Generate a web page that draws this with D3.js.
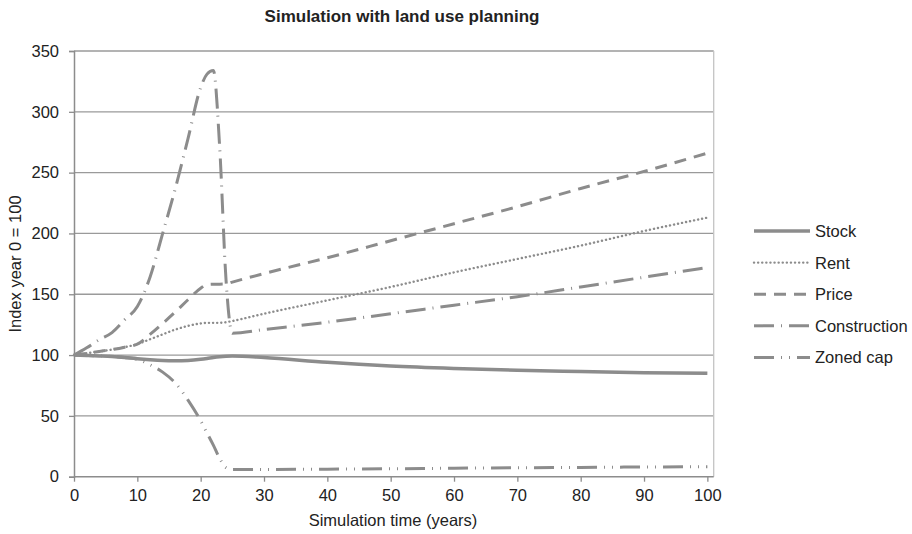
<!DOCTYPE html>
<html>
<head>
<meta charset="utf-8">
<script src="https://cdn.jsdelivr.net/npm/d3@7"></script>
<style>
  body { margin: 0; background: #fff; }
  svg { font-family: "Liberation Sans", Arial, sans-serif; }
</style>
</head>
<body>
<div id="chart"></div>
<script>
'use strict'

// simulation years and index values
const years        = [0, 2, 4, 6, 8, 10, 12, 14, 16, 18, 20, 21, 22, 23, 24, 25, 30, 40, 50, 60, 70, 80, 90, 100];
const stock        = [100, 99.7, 99.3, 98.8, 98, 97, 96.2, 95.6, 95.4, 95.6, 96.5, 97.2, 98, 98.6, 99, 99.2, 98, 94, 91, 89, 87.5, 86.5, 85.5, 85];
const rent         = [100, 101.5, 103, 104.5, 106.5, 109, 113, 117, 121, 124, 126, 126.5, 126.5, 126.5, 127, 128, 134, 145, 156, 168, 179, 190, 202, 213];
const price        = [100, 101.5, 103, 104.5, 106.5, 109, 117, 126, 135.5, 145.5, 155, 158, 158.3, 158.3, 158.5, 160, 167, 180, 194, 208, 222, 237, 251, 266];
const construction = [100, 106, 112.7, 118.5, 129, 140, 164, 200, 237, 278, 320, 331, 334, 271, 162, 118, 121, 127, 134, 141, 148, 156, 164, 172];
const zonedCap     = [100, 99.7, 99.3, 98.8, 98, 96.5, 92, 86, 77, 63, 46, 36, 26, 15, 7.5, 6, 6, 6.2, 6.5, 7, 7.3, 7.6, 8, 8.2];

const seriesNames = ['Stock', 'Rent', 'Price', 'Construction', 'Zoned cap'];
const yTicks = [0, 50, 100, 150, 200, 250, 300, 350];
const xTicks = [0, 10, 20, 30, 40, 50, 60, 70, 80, 90, 100];

const series = [stock, rent, price, construction, zonedCap];
const dashes = [null, '0.1 4', '12 8', '20 7 1 7', '20 7 1 7 1 7'];
const widths = [3.5, 2.4, 3, 3, 3];

const w = 912, h = 534;
const padLeft = 74, padTop = 51, padBottom = 476.7;
const lineColor = '#8c8c8c';
const fontSize = '16.5px';

const xScale = d3.scaleLinear().domain([0, 101]).range([padLeft, 713.7]);
const yScale = d3.scaleLinear().domain([0, 350]).range([padBottom, padTop]);

const svg = d3.select('#chart').append('svg')
  .attr('width', w).attr('height', h);

// title
svg.append('text').text('Simulation with land use planning')
  .attr('x', 402).attr('y', 22)
  .attr('text-anchor', 'middle')
  .style('font-size', '17px').style('font-weight', 'bold').attr('fill', '#222');

// gridlines
svg.append('g').selectAll('line')
  .data(yTicks.filter(d => d > 0))
  .enter().append('line')
  .attr('x1', padLeft).attr('x2', xScale(101))
  .attr('y1', d => yScale(d)).attr('y2', d => yScale(d))
  .attr('stroke', '#9a9a9a').attr('stroke-width', 1.3);

// right frame
svg.append('line')
  .attr('x1', xScale(101)).attr('x2', xScale(101))
  .attr('y1', padTop).attr('y2', padBottom)
  .attr('stroke', '#c4c4c4').attr('stroke-width', 1.3);

// axes
const yAxis = d3.axisLeft(yScale).tickValues(yTicks).tickSize(5).tickPadding(10);
const gy = svg.append('g').attr('transform', 'translate(' + padLeft + ',0)').call(yAxis);
const xAxis = d3.axisBottom(xScale).tickValues(xTicks).tickSize(5).tickPadding(8);
const gx = svg.append('g').attr('transform', 'translate(0,' + padBottom + ')').call(xAxis);
[gx, gy].forEach(g => {
  g.select('.domain').attr('stroke', '#8c8c8c').attr('stroke-width', 1.5);
  g.selectAll('.tick line').attr('stroke', '#8c8c8c').attr('stroke-width', 1.3);
  g.selectAll('.tick text').attr('fill', '#222')
    .style('font-size', fontSize).style('font-family', '"Liberation Sans", Arial, sans-serif');
});
gx.select('.domain').attr('d', 'M' + padLeft + ',0H' + xScale(101));

// axis titles
svg.append('text').text('Simulation time (years)')
  .attr('x', 393).attr('y', 526).attr('text-anchor', 'middle')
  .style('font-size', fontSize).attr('fill', '#222');
svg.append('text').text('Index year 0 = 100')
  .attr('transform', 'translate(21,' + 264 + ') rotate(-90)')
  .attr('text-anchor', 'middle')
  .style('font-size', fontSize).attr('fill', '#222');

// lines
const line = d3.line()
  .x((d, i) => xScale(years[i]))
  .y(d => yScale(d))
  .curve(d3.curveMonotoneX);

svg.append('g').selectAll('path')
  .data(series)
  .enter().append('path')
  .attr('d', d => line(d))
  .attr('fill', 'none')
  .attr('stroke', lineColor)
  .attr('stroke-width', (d, i) => widths[i])
  .attr('stroke-dasharray', (d, i) => dashes[i])
  .attr('stroke-linecap', (d, i) => i === 1 ? 'round' : 'butt');

// legend
const legend = svg.append('g').selectAll('g')
  .data(seriesNames)
  .enter().append('g')
  .attr('transform', (d, i) => 'translate(754,' + (231 + i * 31.6) + ')');
legend.append('line')
  .attr('x1', 0).attr('x2', 56).attr('y1', 0).attr('y2', 0)
  .attr('stroke', lineColor)
  .attr('stroke-width', (d, i) => widths[i])
  .attr('stroke-dasharray', (d, i) => dashes[i])
  .attr('stroke-linecap', (d, i) => i === 1 ? 'round' : 'butt');
legend.append('text').text(d => d)
  .attr('x', 61).attr('y', 6)
  .style('font-size', fontSize).attr('fill', '#222');
</script>
</body>
</html>
